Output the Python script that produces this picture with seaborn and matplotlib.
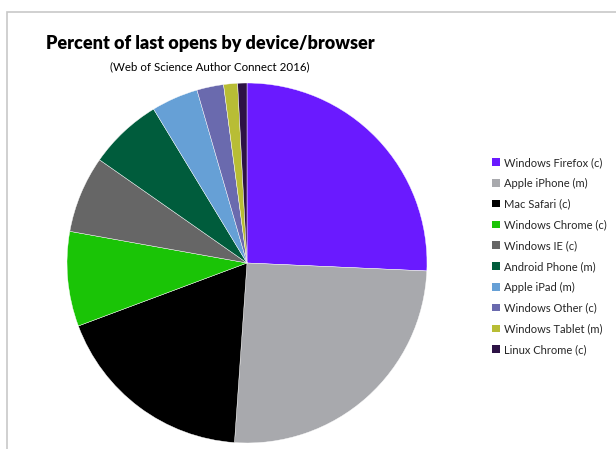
import matplotlib
matplotlib.use("Agg")
import matplotlib.pyplot as plt
from matplotlib.patches import Patch, Rectangle
import seaborn as sns

categories = ["Windows Firefox (c)", "Apple iPhone (m)", "Mac Safari (c)", "Windows Chrome (c)",
              "Windows IE (c)", "Android Phone (m)", "Apple iPad (m)", "Windows Other (c)",
              "Windows Tablet (m)", "Linux Chrome (c)"]
values = [25.7, 25.4, 18.2, 8.5, 6.9, 6.6, 4.2, 2.4, 1.25, 0.83]
colors = ["#6a1aff", "#a8a9ad", "#000000", "#1ac406", "#666666", "#005c3c",
          "#66a0d6", "#6a6aae", "#b8bd35", "#2d1245"]
title = "Percent of last opens by device/browser"
subtitle = "(Web of Science Author Connect 2016)"

sns.set_theme(style="white")
plt.rcParams['font.family'] = ['Lato', 'DejaVu Sans']

W, H = 616, 449
fig = plt.figure(figsize=(W / 100, H / 100), dpi=100)
fig.patch.set_facecolor("white")

# chart-area frame
fig.patches.append(Rectangle((7 / W, -0.1), 1.2, (H - 12) / H + 0.1, transform=fig.transFigure,
                             fill=False, edgecolor="#c8c8c8", linewidth=1.2))

cx, cy, r = 247, 263, 180
ax = fig.add_axes([(cx - r) / W, (H - cy - r) / H, 2 * r / W, 2 * r / H])
ax.pie(values, colors=colors, startangle=90, counterclock=False, radius=1,
       wedgeprops=dict(linewidth=0.3, edgecolor="white"))
ax.set_xlim(-1, 1)
ax.set_ylim(-1, 1)
ax.set_aspect("equal")
ax.axis("off")

fig.text(210 / W, 1 - 43 / H, title, ha="center", va="center", fontsize=13,
         fontweight="heavy", color="#000000")
fig.text(210 / W, 1 - 67 / H, subtitle, ha="center", va="center", fontsize=8.3, color="#000000")

handles = [Patch(facecolor=c, edgecolor="none") for c in colors]
leg = fig.legend(handles, categories, loc="upper left", bbox_to_anchor=(488 / W, 1 - 152.5 / H),
                 frameon=False, fontsize=8, handlelength=0.65, handleheight=0.65,
                 handletextpad=0.35, labelspacing=0.88, borderaxespad=0)

fig.savefig("out.png", dpi=100)
